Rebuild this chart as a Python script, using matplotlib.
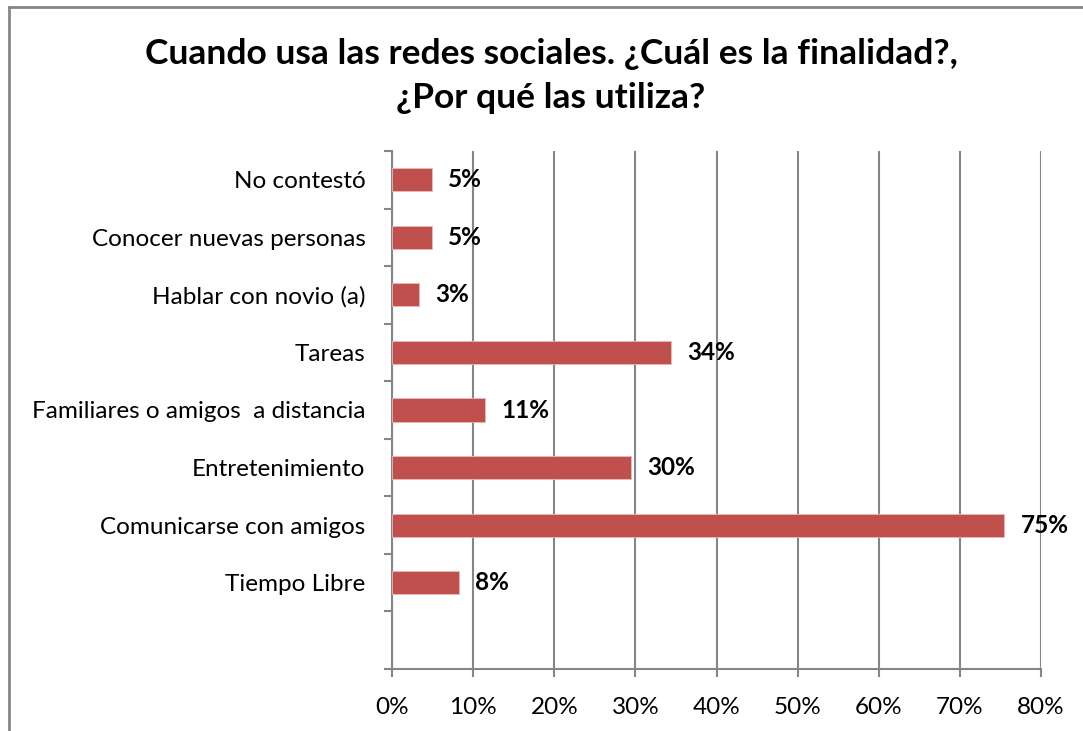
import matplotlib
matplotlib.use("Agg")
import matplotlib.pyplot as plt
from matplotlib.lines import Line2D
from matplotlib.ticker import FuncFormatter, MultipleLocator
from matplotlib.transforms import offset_copy

plt.rcParams['font.family'] = ['Lato', 'DejaVu Sans']

# Data (bottom to top)
categories = ["", "Tiempo Libre", "Comunicarse con amigos", "Entretenimiento",
              "Familiares o amigos  a distancia", "Tareas", "Hablar con novio (a)",
              "Conocer nuevas personas", "No contestó"]
values = [None, 8.3, 75.5, 29.5, 11.5, 34.4, 3.3, 4.9, 4.9]
labels = ["", "8%", "75%", "30%", "11%", "34%", "3%", "5%", "5%"]
title = "Cuando usa las redes sociales. ¿Cuál es la finalidad?,\n¿Por qué las utiliza?"

W, H = 1083, 731
fig = plt.figure(figsize=(W / 100, H / 100), dpi=100)
left, right, top, bottom = 392, 1041, 151, 669
ax = fig.add_axes([left / W, 1 - bottom / H, (right - left) / W, (bottom - top) / H])

bar_color = "#C0504D"
grid_color = "#868686"

lab_trans = offset_copy(ax.transData, fig=fig, x=11.5, y=0, units="points")
ypos = list(range(len(categories)))
for y, v, lab in zip(ypos, values, labels):
    if v is None:
        continue
    ax.barh(y, v, height=0.4, color=bar_color, edgecolor="#E6B9B8", linewidth=0.6, zorder=3)
    ax.text(v, y, lab, va="center", ha="left", fontsize=17.5, transform=lab_trans,
            fontweight="bold", color="black", zorder=4)

ax.set_xlim(0, 80)
ax.set_ylim(-0.5, len(categories) - 0.5)
ax.xaxis.set_major_locator(MultipleLocator(10))
ax.xaxis.set_major_formatter(FuncFormatter(lambda x, p: f"{int(round(x))}%"))
ax.set_yticks(ypos)
ax.set_yticklabels(categories)
ax.set_yticks([i - 0.5 for i in range(len(categories) + 1)], minor=True)
ax.tick_params(axis="y", which="major", length=0, pad=19, labelsize=17.5)
ax.tick_params(axis="y", which="minor", length=6, color=grid_color, width=1.5)
ax.tick_params(axis="x", which="major", length=6, color=grid_color, width=1.5,
               labelsize=17.5, pad=14)
ax.grid(axis="x", color=grid_color, linewidth=1.5, zorder=0)
ax.set_axisbelow(True)
for s in ["top", "right"]:
    ax.spines[s].set_visible(False)
for s in ["left", "bottom"]:
    ax.spines[s].set_color(grid_color)
    ax.spines[s].set_linewidth(1.5)

fig.text(551 / W, 1 - 76 / H, title, ha="center", va="center", fontsize=25.5,
         fontweight="bold", linespacing=1.45)

# outer chart border (left and top visible)
fig.add_artist(Line2D([8.5 / W, 8.5 / W], [0, 1 - 6.5 / H], transform=fig.transFigure,
                      color="#868686", linewidth=2))
fig.add_artist(Line2D([8.5 / W, 1], [1 - 6.5 / H, 1 - 6.5 / H], transform=fig.transFigure,
                      color="#868686", linewidth=2))

fig.savefig("out.png", dpi=100)
